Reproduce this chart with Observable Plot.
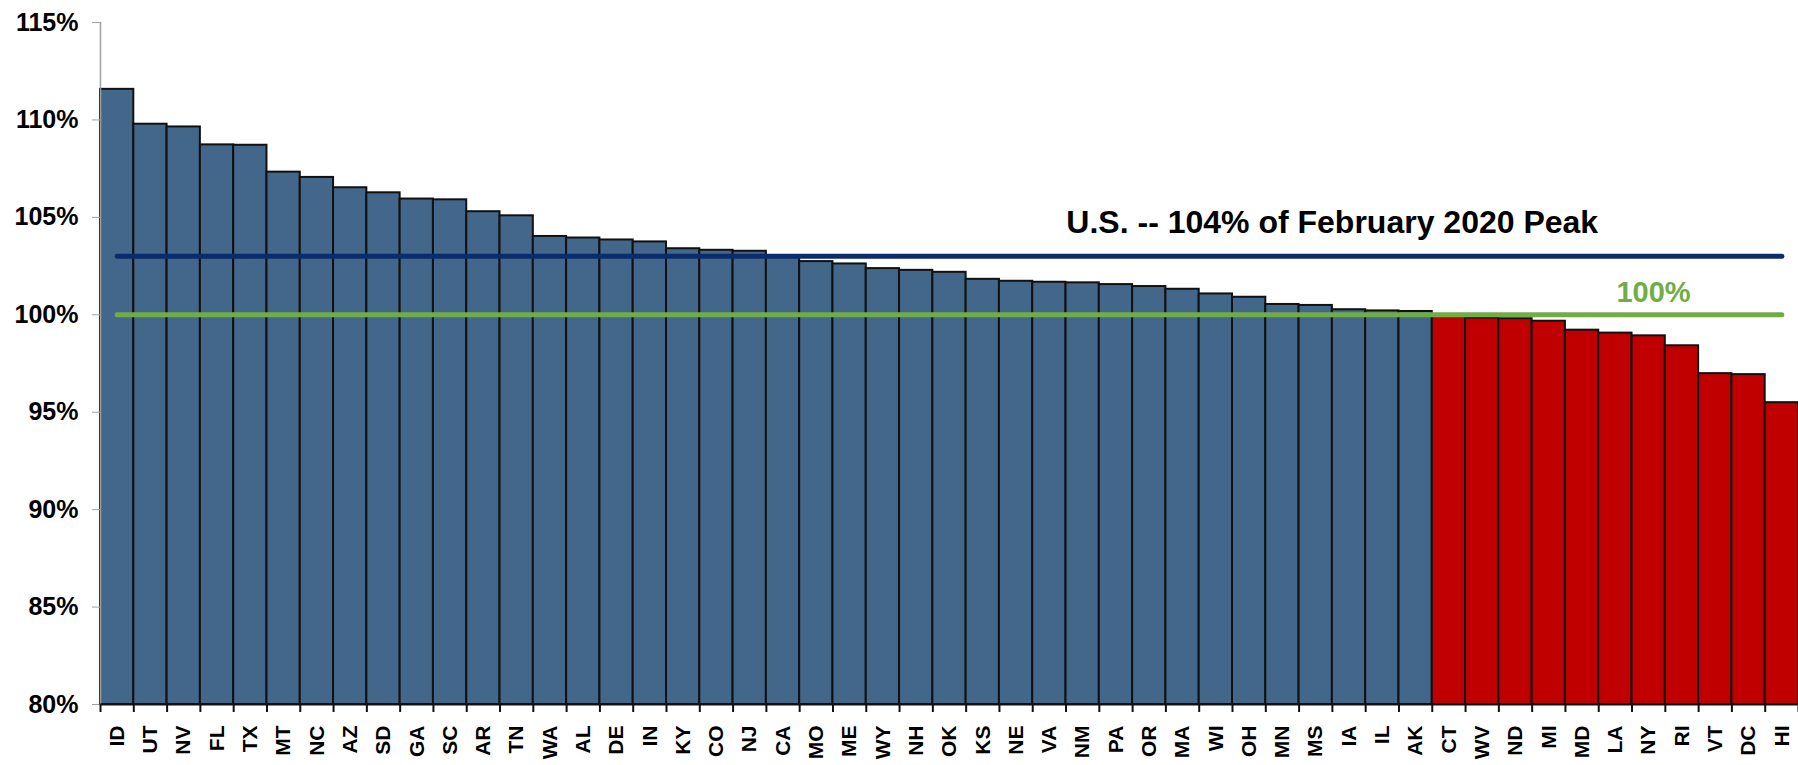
<!DOCTYPE html>
<html><head><meta charset="utf-8">
<script src="https://cdn.jsdelivr.net/npm/d3@7"></script>
<script src="https://cdn.jsdelivr.net/npm/@observablehq/plot@0.6"></script>
<style>html,body{margin:0;padding:0;background:#fff;} svg{display:block;}</style>
</head><body><div id="chart"></div>
<script>
const states = ["ID","UT","NV","FL","TX","MT","NC","AZ","SD","GA","SC","AR","TN","WA","AL","DE","IN","KY","CO","NJ","CA","MO","ME","WY","NH","OK","KS","NE","VA","NM","PA","OR","MA","WI","OH","MN","MS","IA","IL","AK","CT","WV","ND","MI","MD","LA","NY","RI","VT","DC","HI"];
const values = [111.57,109.78,109.64,108.72,108.70,107.32,107.05,106.52,106.26,105.94,105.90,105.29,105.08,104.02,103.94,103.84,103.74,103.39,103.31,103.26,102.98,102.73,102.61,102.37,102.28,102.18,101.82,101.72,101.67,101.64,101.55,101.45,101.31,101.07,100.90,100.53,100.48,100.26,100.20,100.17,99.93,99.83,99.80,99.67,99.21,99.06,98.92,98.41,96.98,96.93,95.49];
const yTicks = [80,85,90,95,100,105,110,115];
const usLine = 103;
const peakLine = 100;
const usLabel = "U.S. -- 104% of February 2020 Peak";
const peakLabel = "100%";

const data = states.map((s,i)=>({state:s, value:values[i], x1:i, x2:i+1, xc:i+0.5, above:values[i]>=100}));
const font = "'Liberation Sans', Arial, Helvetica, sans-serif";

const chart = Plot.plot({
  width: 1798, height: 765,
  marginTop: 22, marginBottom: 61, marginLeft: 100, marginRight: 0,
  x: {domain: [0, states.length], axis: null},
  y: {domain: [yTicks[0], yTicks[yTicks.length-1]], axis: null},
  color: {type: "identity"},
  style: {fontFamily: font, background: "#fff", color: "#000"},
  marks: [
    Plot.rect(data, {x1: "x1", x2: "x2", y1: () => yTicks[0], y2: "value",
      fill: d => d.above ? "#42678b" : "#c00000", stroke: "#111", strokeWidth: 2}),
    Plot.ruleX([0], {y1: yTicks[0], y2: yTicks[yTicks.length-1], stroke: "#a0a0a0", strokeWidth: 1.5}),
    Plot.axisY({ticks: yTicks, tickFormat: d => d + "%", tickSize: 8, tickPadding: 14,
      stroke: "#a0a0a0", fill: "#000", fontSize: 25, fontWeight: "bold", label: null}),
    Plot.ruleY([yTicks[0]], {stroke: "#111", strokeWidth: 2}),
    Plot.axisX({ticks: d3.range(states.length + 1), tickFormat: () => "", tickSize: 8,
      stroke: "#111", strokeWidth: 2, label: null}),
    Plot.text(data, {x: "xc", y: () => yTicks[0], text: "state", rotate: -90, textAnchor: "end",
      lineAnchor: "middle", dy: 21, fontSize: 21, fontWeight: "bold", fill: "#000"}),
    Plot.lineY(data, {x: "xc", y: () => usLine, stroke: "#0b2c6b", strokeWidth: 5, strokeLinecap: "round"}),
    Plot.lineY(data, {x: "xc", y: () => peakLine, stroke: "#70ad47", strokeWidth: 5, strokeLinecap: "round"}),
    Plot.text([usLabel], {x: 29.01, y: 104.19, text: d => d, textAnchor: "start", lineAnchor: "bottom",
      fontSize: 32, fontWeight: "bold", fill: "#000"}),
    Plot.text([peakLabel], {x: 45.53, y: 100.65, text: d => d, textAnchor: "start", lineAnchor: "bottom",
      fontSize: 29, fontWeight: "bold", fill: "#70ad47"})
  ]
});
document.getElementById("chart").appendChild(chart);
</script>
</body></html>
